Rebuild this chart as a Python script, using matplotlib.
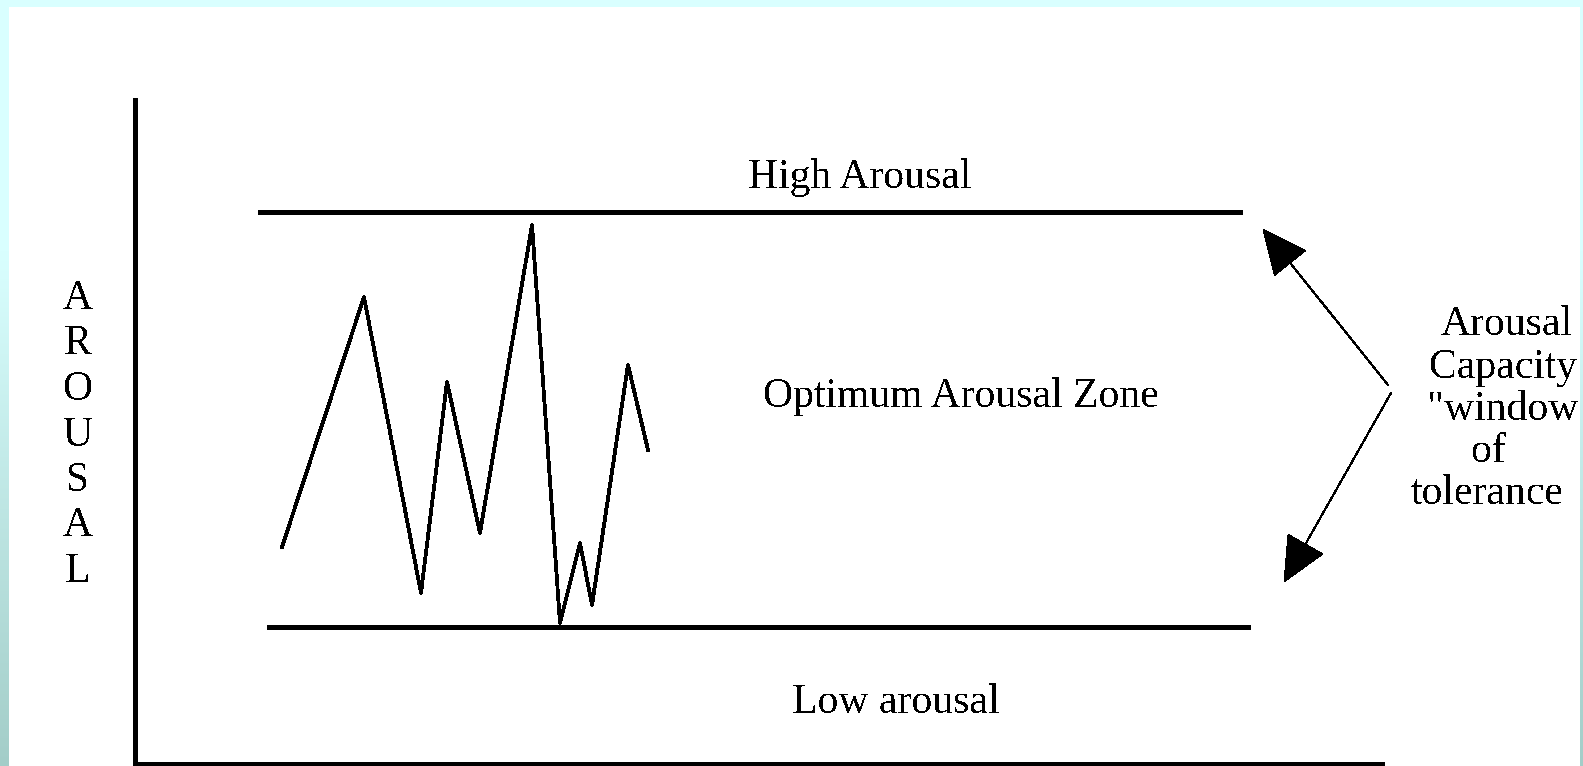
import matplotlib
matplotlib.use("Agg")
import matplotlib.pyplot as plt
import numpy as np
from matplotlib.patches import FancyArrowPatch

W, H = 1583, 766

# zigzag arousal trace (pixel coords of the original diagram)
trace_x = [282, 364, 421, 447, 480, 532, 560, 580, 592, 628, 648]
trace_y = [547, 297, 593, 382, 533, 225, 623, 543, 605, 365, 450]

# zone boundaries
high_line = (258, 1242, 212)
low_line = (267, 1250, 627)

# labels
axis_word = "AROUSAL"
side_lines = ["Arousal", "Capacity", "\"window", "of", "tolerance"]
side_x = [1507, 1503, 1503, 1489, 1487]
side_base = [335, 378, 420, 462, 504]

plt.rcParams["font.family"] = ["Liberation Serif", "DejaVu Serif"]
plt.rcParams["text.antialiased"] = False

fig = plt.figure(figsize=(W / 100, H / 100), dpi=100)
ax = fig.add_axes([0, 0, 1, 1])
ax.set_xlim(0, W)
ax.set_ylim(H, 0)
ax.axis("off")

# cyan/teal border strips with gradient
yy = np.arange(H)
t = np.clip((yy - 250) / (H - 250), 0, 1)
top_c = np.array([217, 255, 255]) / 255
bot_c = np.array([163, 205, 200]) / 255
grad = (top_c[None, :] * (1 - t[:, None]) + bot_c[None, :] * t[:, None])[:, None, :]
ax.imshow(grad, extent=[0, 9, H, 0], aspect="auto", interpolation="nearest", zorder=0)
ax.imshow(grad, extent=[1580, W, H, 0], aspect="auto", interpolation="nearest", zorder=5)
ax.fill_between([0, W], 0, 7, color="#d9ffff", lw=0, zorder=0)

lk = dict(color="black", lw=2.2, antialiased=False, solid_capstyle="butt")

# axes of the diagram
ax.plot([135, 135], [98, 765], **lk)
ax.plot([135, 1384], [764, 764], **lk)

# high / low lines
ax.plot(high_line[:2], [high_line[2]] * 2, **lk)
ax.plot(low_line[:2], [low_line[2]] * 2, **lk)

# trace
ax.plot(trace_x, trace_y, color="black", lw=2.0, antialiased=False)

# arrows for the window of tolerance
for tail, tip in [((1388, 385), (1263, 229)), ((1391, 393), (1284, 582))]:
    ar = FancyArrowPatch(tail, tip, arrowstyle="-|>,head_length=2.5,head_width=1.15",
                         color="black", lw=0.8, antialiased=False, shrinkA=0, shrinkB=0,
                         mutation_scale=12)
    ax.add_patch(ar)

fs = 30
ax.text(860, 188, "High Arousal", ha="center", va="baseline", fontsize=fs)
ax.text(961, 407, "Optimum Arousal Zone", ha="center", va="baseline", fontsize=fs)
ax.text(896, 713, "Low arousal", ha="center", va="baseline", fontsize=fs)

for i, ch in enumerate(axis_word):
    ax.text(78, 309 + 45.5 * i, ch, ha="center", va="baseline", fontsize=fs)

for s, x, y in zip(side_lines, side_x, side_base):
    ax.text(x, y, s, ha="center", va="baseline", fontsize=fs, zorder=3)

fig.savefig("out.png", dpi=100, facecolor="white")
